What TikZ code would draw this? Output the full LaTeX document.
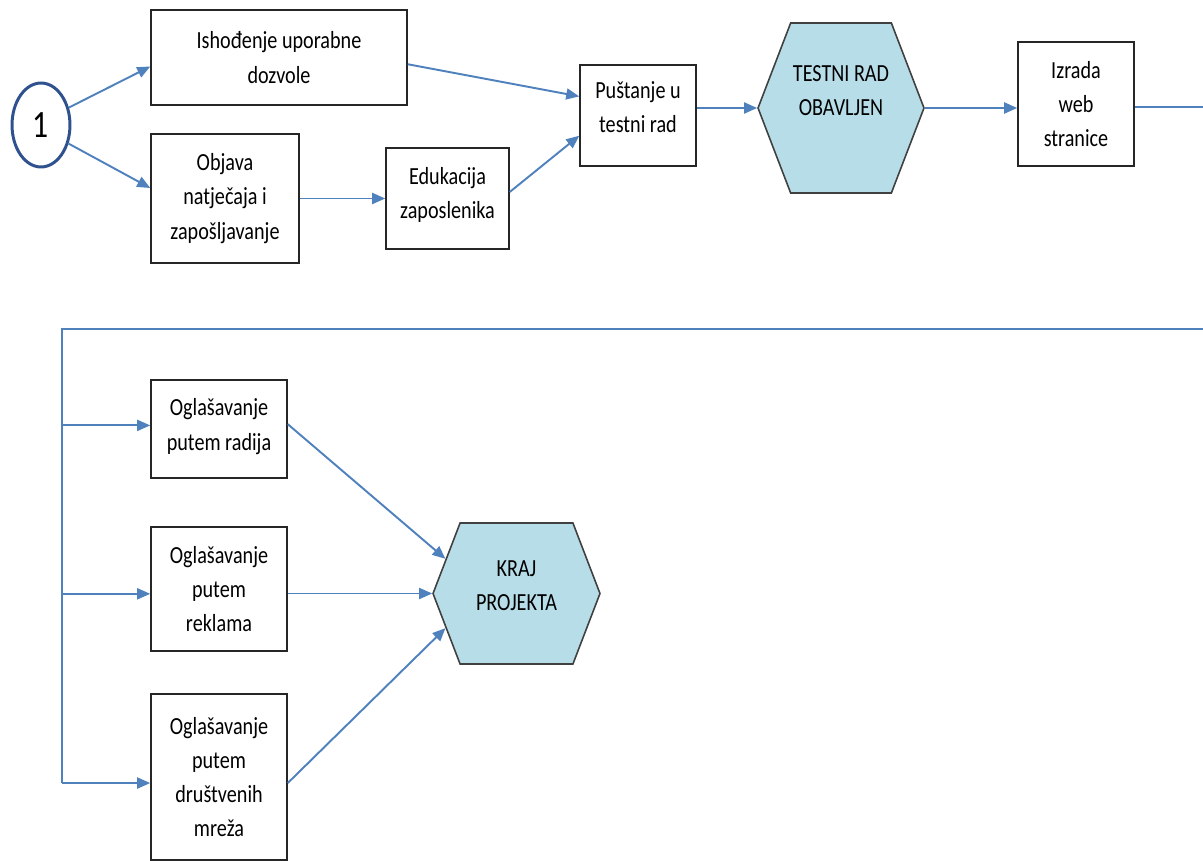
\documentclass[tikz,border=0pt]{standalone}
\usepackage{fontspec}
\setmainfont{Carlito}
\newfontfamily\uzak[FakeStretch=0.82]{Carlito}
\usetikzlibrary{arrows.meta,shapes.geometric,shapes.symbols}
\definecolor{strelica}{RGB}{79,129,189}
\definecolor{krug}{RGB}{47,82,143}
\definecolor{heksa}{RGB}{183,221,232}
\tikzset{
  korak/.style={draw=black!85, line width=0.9pt, align=center, inner sep=0pt,
    font=\uzak\fontsize{14pt}{19.5pt}\selectfont},
  cilj/.style={shape=signal, signal to=west and east, signal pointer angle=138,
    draw=black!75, fill=heksa, line width=0.9pt, align=center, inner sep=0pt,
    font=\uzak\fontsize{14pt}{19.5pt}\selectfont},
  veza/.style={draw=strelica, line width=1.1pt, -{Triangle[length=0.26cm,width=0.22cm]}},
  linija/.style={draw=strelica, line width=1.1pt}
}
\begin{document}
\begin{tikzpicture}[x=0.02cm, y=-0.02cm]
  %%%%% START %%%%%
  \useasboundingbox (0, 0) rectangle (1203, 861);

  \node[draw=krug, line width=1.7pt, ellipse, minimum width=1.16cm, minimum height=1.68cm,
    inner sep=0pt, font=\uzak\fontsize{22pt}{24pt}\selectfont] (start) at (41, 125) {1};

  \node[korak, minimum width=5.12cm, minimum height=1.9cm] (uporabna) at (279, 57.5) {Ishođenje uporabne\\dozvole};
  \node[korak, minimum width=2.96cm, minimum height=2.58cm] (natjecaj) at (225, 198.5) {Objava\\natječaja i\\zapošljavanje};
  \node[korak, minimum width=2.46cm, minimum height=2.02cm] (edukacija) at (447.5, 198.5) {Edukacija\\zaposlenika\\[-0.45cm]~};
  \node[korak, minimum width=2.32cm, minimum height=2.02cm] (pustanje) at (638, 115.5) {Puštanje u\\testni rad\\[-0.36cm]~};
  \node[cilj, minimum width=3.32cm, minimum height=3.4cm] (testni) at (841, 108) {TESTNI RAD\\OBAVLJEN\\~};
  \node[korak, minimum width=2.32cm, minimum height=2.48cm] (web) at (1076, 104) {Izrada\\web\\stranice};

  \node[korak, minimum width=2.72cm, minimum height=1.96cm] (radio) at (219, 429) {Oglašavanje\\putem radija\\[-0.5cm]~};
  \node[korak, minimum width=2.72cm, minimum height=2.48cm] (reklame) at (219, 589) {Oglašavanje\\putem\\reklama};
  \node[korak, minimum width=2.72cm, minimum height=3.32cm] (mreze) at (219, 777) {Oglašavanje\\putem\\društvenih\\mreža};
  \node[cilj, minimum width=3.34cm, minimum height=2.82cm] (kraj) at (516.5, 593.5) {KRAJ\\PROJEKTA\\[-0.36cm]~};

  \coordinate (izlaz) at (1203, 107);
  \coordinate (povratak) at (1203, 329);
  \coordinate (kut) at (62, 329);

  % prvi red
  \draw[veza] (start.32) -- (uporabna.184);
  \draw[veza] (start.-34) -- (natjecaj.172);
  \draw[veza] (uporabna.-3) -- (pustanje.162);
  \draw[veza] (natjecaj) -- (edukacija);
  \draw[veza] (edukacija.6) -- (pustanje.199);
  \draw[veza] (pustanje.east |- testni.west) -- (testni.west);
  \draw[veza] (testni.east) -- (testni.east -| web.west);
  \draw[linija] (web.east |- izlaz) -- (izlaz);

  % drugi red
  \draw[linija] (povratak) -- (kut) -- (kut |- mreze.185);
  \draw[veza] (kut |- radio.177) -- (radio.177);
  \draw[veza] (kut |- reklame.184) -- (reklame.184);
  \draw[veza] (kut |- mreze.185) -- (mreze.185);
  \draw[veza] (radio.4) -- (kraj.154);
  \draw[veza] (reklame.east |- kraj.west) -- (kraj.west);
  \draw[veza] (mreze.-5) -- (kraj.206);

  %%%%% END %%%%%
\end{tikzpicture}
\end{document}
